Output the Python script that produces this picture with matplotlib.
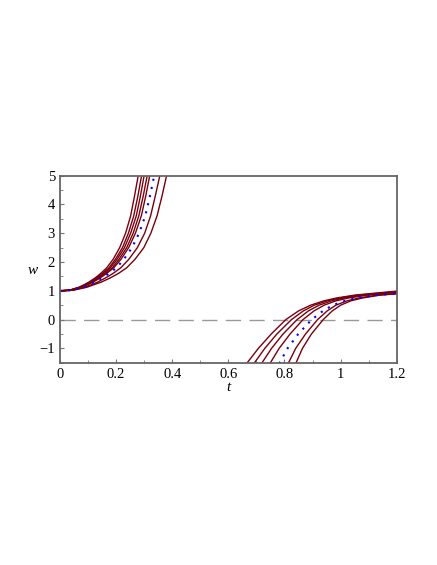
import matplotlib
matplotlib.use("Agg")
import matplotlib.pyplot as plt
from matplotlib.ticker import MultipleLocator

# upper branch: w levels shared, t values read per curve (left to right)
w_up = [1.0, 1.02, 1.12, 1.2, 1.3, 1.45, 1.6, 1.8, 2.1, 2.5, 3.0, 3.6, 4.3, 5.0]
up_red = [
    [0, 0.033, 0.067, 0.084, 0.103, 0.126, 0.145, 0.167, 0.190, 0.213, 0.234, 0.252, 0.266, 0.279],
    [0, 0.035, 0.070, 0.087, 0.108, 0.131, 0.151, 0.175, 0.198, 0.223, 0.244, 0.263, 0.278, 0.291],
    [0, 0.036, 0.072, 0.090, 0.111, 0.135, 0.156, 0.180, 0.204, 0.230, 0.252, 0.272, 0.287, 0.300],
    [0, 0.037, 0.075, 0.093, 0.115, 0.140, 0.162, 0.187, 0.211, 0.238, 0.261, 0.281, 0.297, 0.311],
    [0, 0.038, 0.077, 0.096, 0.118, 0.144, 0.166, 0.192, 0.218, 0.245, 0.269, 0.290, 0.306, 0.320],
    [0, 0.044, 0.087, 0.109, 0.134, 0.163, 0.189, 0.217, 0.246, 0.276, 0.302, 0.323, 0.340, 0.356],
    [0, 0.048, 0.095, 0.118, 0.147, 0.180, 0.208, 0.238, 0.268, 0.299, 0.324, 0.346, 0.364, 0.380],
]
up_blue = [0, 0.040, 0.081, 0.101, 0.124, 0.151, 0.175, 0.202, 0.228, 0.257, 0.282, 0.304, 0.321, 0.336]

# lower branch: w levels shared, t values per curve, plus value at t = 1.2
w_lo = [-1.53, -1.0, -0.5, 0.0, 0.3, 0.5, 0.65, 0.75, 0.85]
lo_red = [
    [0.665, 0.707, 0.753, 0.805, 0.850, 0.893, 0.940, 0.985, 1.050],
    [0.691, 0.730, 0.773, 0.825, 0.867, 0.906, 0.952, 0.997, 1.062],
    [0.718, 0.754, 0.795, 0.845, 0.885, 0.923, 0.967, 1.012, 1.078],
    [0.748, 0.781, 0.820, 0.866, 0.905, 0.941, 0.983, 1.028, 1.095],
    [0.813, 0.840, 0.875, 0.918, 0.952, 0.983, 1.022, 1.065, 1.130],
    [0.840, 0.864, 0.896, 0.938, 0.970, 1.000, 1.036, 1.078, 1.140],
]
lo_red_end = [0.99, 0.975, 0.96, 0.945, 0.905, 0.895]
lo_blue = [0.781, 0.811, 0.849, 0.897, 0.937, 0.972, 1.015, 1.058, 1.125]
lo_blue_end = 0.91

red = "#78000E"
blue = "#0000FF"

plt.rcParams["font.family"] = ["Liberation Serif", "DejaVu Serif"]
fig = plt.figure(figsize=(4.37, 5.65), dpi=100)
ax = fig.add_axes([0.137, 0.358, 0.771, 0.331])

for ts in up_red:
    ax.plot(ts, w_up, color=red, lw=1.0)
ax.plot(up_blue, w_up, color=blue, lw=1.5, ls=(0, (1, 3)))

for ts, we in zip(lo_red, lo_red_end):
    ax.plot(ts + [1.2], w_lo + [we], color=red, lw=1.0)
ax.plot(lo_blue + [1.2], w_lo + [lo_blue_end], color=blue, lw=1.5, ls=(0, (1, 3)))

ax.axhline(0, color="#999999", lw=1.0, ls=(0, (11, 6)), zorder=0)

ax.set_xlim(0, 1.2)
ax.set_ylim(-1.5, 5)
ax.xaxis.set_minor_locator(MultipleLocator(0.1))
ax.yaxis.set_minor_locator(MultipleLocator(0.5))
ax.set_xticks([0, 0.2, 0.4, 0.6, 0.8, 1.0, 1.2])
ax.set_xticklabels(["0", "0.2", "0.4", "0.6", "0.8", "1", "1.2"])
ax.set_yticks([-1, 0, 1, 2, 3, 4, 5])
ax.set_yticklabels(["\u22121", "0", "1", "2", "3", "4", "5"])
ax.tick_params(which="both", direction="in", color="#777777", labelsize=10.5)
ax.tick_params(which="major", length=3)
ax.tick_params(which="minor", length=2)
for s in ax.spines.values():
    s.set_color("#666666")
    s.set_linewidth(1.3)

ax.set_xlabel("t", style="italic", fontsize=11, labelpad=0)
ax.set_ylabel("w", style="italic", fontsize=11, rotation=0, labelpad=7)
ax.yaxis.set_label_coords(-0.08, 0.46)

fig.savefig("out.png", dpi=100)
